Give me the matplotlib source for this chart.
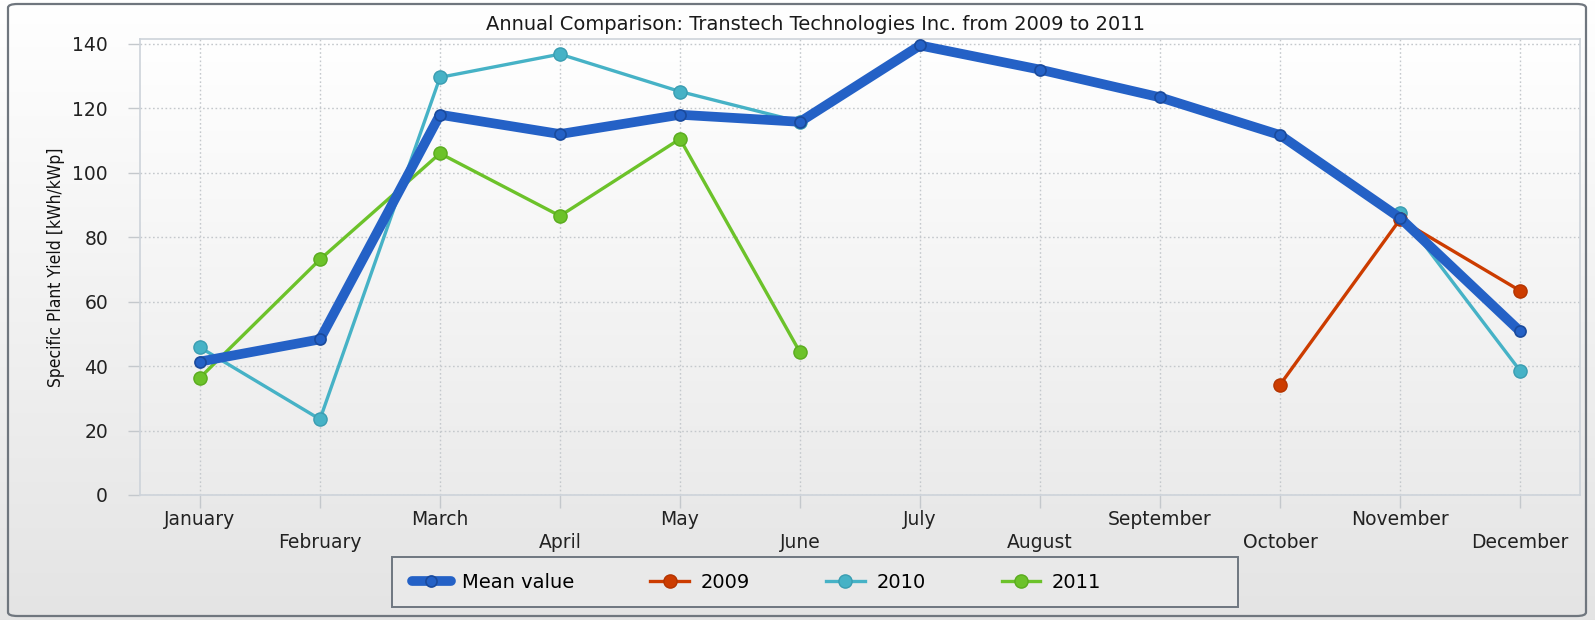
import numpy as np
import matplotlib
matplotlib.use("Agg")
import matplotlib.pyplot as plt
from matplotlib.patches import FancyBboxPatch, Rectangle
from matplotlib.colors import LinearSegmentedColormap

# ---- data ----
months = ["January", "February", "March", "April", "May", "June", "July",
          "August", "September", "October", "November", "December"]
mean_value = [41.4, 48.3, 118.0, 112.0, 118.0, 115.8, 139.5, 132.0, 123.4, 111.7, 86.0, 50.8]
y2009 = [None, None, None, None, None, None, None, None, None, 34.2, 85.5, 63.4]
y2010 = [45.8, 23.5, 129.6, 136.8, 125.2, 115.8, None, None, None, None, 87.6, 38.6]
y2011 = [36.4, 73.1, 106.0, 86.6, 110.5, 44.3, None, None, None, None, None, None]
yticks = [0, 20, 40, 60, 80, 100, 120, 140]

title = "Annual Comparison: Transtech Technologies Inc. from 2009 to 2011"
ylabel = "Specific Plant Yield [kWh/kWp]"

c_mean = "#2461c6"
c_2009 = "#cc3c00"
c_2010 = "#46b2c6"
c_2011 = "#6cc22a"

def arr(v):
    return np.array([np.nan if x is None else x for x in v], dtype=float)

fig = plt.figure(figsize=(15.95, 6.2), dpi=100)

# figure background gradient
bg = fig.add_axes([0, 0, 1, 1], zorder=-10)
cm_bg = LinearSegmentedColormap.from_list("bg", ["#ffffff", "#e4e4e4"])
bg.imshow(np.linspace(0, 1, 256).reshape(-1, 1), aspect="auto", cmap=cm_bg,
          extent=[0, 1, 1, 0])
bg.set_xlim(0, 1); bg.set_ylim(1, 0)
bg.axis("off")
border = FancyBboxPatch((8 / 1595, 4 / 620), 1578 / 1595, 612 / 620,
                        boxstyle="round,pad=0,rounding_size=0.006",
                        transform=fig.transFigure, fill=False,
                        edgecolor="#6f767e", linewidth=1.6)
fig.patches.append(border)

ax = fig.add_axes([140 / 1595, 1 - 495 / 620, 1440 / 1595, (495 - 39) / 620])
cm_ax = LinearSegmentedColormap.from_list("ax", ["#ffffff", "#ebebeb"])
ax.imshow(np.linspace(0, 1, 256).reshape(-1, 1), aspect="auto", cmap=cm_ax,
          extent=[-0.5, 11.5, 0, 141.5], origin="upper", zorder=0)

x = np.arange(len(months))
ax.plot(x, arr(y2010), color=c_2010, lw=2.4, marker="o", ms=9.5,
        mfc=c_2010, mec="#3a9db1", zorder=3, label="2010")
ax.plot(x, arr(y2011), color=c_2011, lw=2.4, marker="o", ms=9.5,
        mfc=c_2011, mec="#5aab1e", zorder=3, label="2011")
ax.plot(x, arr(y2009), color=c_2009, lw=2.4, marker="o", ms=9.5,
        mfc=c_2009, mec="#b33400", zorder=3, label="2009")
ax.plot(x, arr(mean_value), color=c_mean, lw=7, marker="o", ms=8,
        mfc=c_mean, mec="#1a4a9c", mew=1.2, zorder=4, label="Mean value",
        solid_joinstyle="round", solid_capstyle="round")

ax.set_xlim(-0.5, 11.5)
ax.set_ylim(0, 141.5)
ax.set_xticks(x)
ax.set_xticklabels(months, fontsize=13.5, color="#222222")
ax.set_yticks(yticks)
ax.set_yticklabels([str(v) for v in yticks], fontsize=13.5, color="#222222")
for lab in ax.get_xticklabels()[1::2]:
    lab.set_y(-0.05)

ax.grid(True, color="#c4c8cc", linestyle=(0, (1.2, 1.8)), linewidth=1.0, zorder=1)
ax.tick_params(axis="both", length=9, color="#c4c8cc", width=1.0)
ax.tick_params(axis="x", pad=2)
ax.tick_params(axis="y", pad=14)
for t in ax.xaxis.get_major_ticks() + ax.yaxis.get_major_ticks():
    t.tick1line.set_linestyle((0, (1.2, 1.8)))
for s in ax.spines.values():
    s.set_color("#cdd3da")
    s.set_linewidth(1.2)

ax.set_ylabel(ylabel, fontsize=12.5, family="DejaVu Sans", fontstretch="condensed",
              color="#111111", labelpad=5)
fig.text(0.511, 1 - 24 / 620, title, ha="center", va="center", fontsize=14,
         color="#1a1a1a")

# legend frame
fig.patches.append(Rectangle((392 / 1595, 1 - 607 / 620), 846 / 1595, 50 / 620,
                             transform=fig.transFigure, facecolor="#e9e9e9",
                             edgecolor="#6e7680", linewidth=1.4, zorder=1))
handles, labels = ax.get_legend_handles_labels()
order = [3, 2, 0, 1]
leg = fig.legend([handles[i] for i in order], [labels[i] for i in order],
                 loc="center left", ncol=4,
                 bbox_to_anchor=(398 / 1595, 1 - 582 / 620),
                 frameon=False, fontsize=14, handlelength=2.0,
                 handletextpad=0.6, columnspacing=3.9, borderpad=0.2)

fig.savefig("out.png", dpi=100)
